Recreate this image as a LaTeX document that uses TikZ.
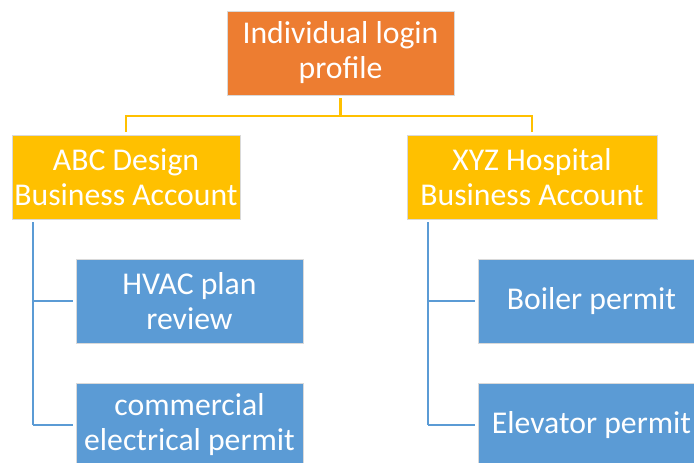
\documentclass[tikz,border=0pt]{standalone}
\usepackage{fontspec}
\setmainfont{Carlito}
\begin{document}
\begin{tikzpicture}[x=1pt, y=-1pt,
  box/.style={rectangle, inner sep=0pt, align=center, text=white,
    draw=white!85!black, line width=0.6pt,
    font=\fontsize{31.7}{35}\selectfont},
  topbox/.style={box, fill=topfill, minimum width=227pt, minimum height=84pt},
  acctbox/.style={box, fill=acctfill, minimum height=84pt},
  permbox/.style={box, fill=permfill, minimum width=227pt, minimum height=84pt},
  yline/.style={draw=acctfill, line width=2.6pt},
  bline/.style={draw=permfill, line width=2.6pt}]
\definecolor{topfill}{HTML}{ED7D31}
\definecolor{acctfill}{HTML}{FFC000}
\definecolor{permfill}{HTML}{5B9BD5}

\useasboundingbox (0,0) rectangle (694,463);
\fill[white] (0,0) rectangle (694,463);
\clip (0,0) rectangle (694,463);

% boxes
\node[topbox] (top) at (340.5,53) {Individual login\\profile};
\node[acctbox, minimum width=228pt] (abc) at (126,177) {ABC Design\\Business Account};
\node[acctbox, minimum width=250pt] (xyz) at (532,177) {XYZ Hospital\\Business Account};
\node[permbox] (hvac) at (189.5,301) {HVAC plan\\review};
\node[permbox] (elec) at (189.5,425) {commercial\\electrical permit};
\node[permbox] (boiler) at (591.5,301) {Boiler permit};
\node[permbox] (elev) at (591.5,425) {Elevator permit};

% junction heights and spine positions
\coordinate (mid) at (0,116);
\coordinate (lspine) at (33,0);
\coordinate (rspine) at (428,0);

% top level connectors
\draw[yline, shorten <=3pt] (top.south) -- (top.south |- mid);
\draw[yline, shorten >=3pt] (top.south |- mid) -| (abc.north);
\draw[yline, shorten >=3pt] (top.south |- mid) -| (xyz.north);

% permit connectors
\draw[bline, shorten <=3pt] (abc.south -| lspine) -- (elec.west -| lspine);
\draw[bline, shorten >=3pt] (hvac.west -| lspine) -- (hvac.west);
\draw[bline, shorten >=3pt] (elec.west -| lspine) -- (elec.west);
\draw[bline, shorten <=3pt] (xyz.south -| rspine) -- (elev.west -| rspine);
\draw[bline, shorten >=3pt] (boiler.west -| rspine) -- (boiler.west);
\draw[bline, shorten >=3pt] (elev.west -| rspine) -- (elev.west);
\end{tikzpicture}
\end{document}
